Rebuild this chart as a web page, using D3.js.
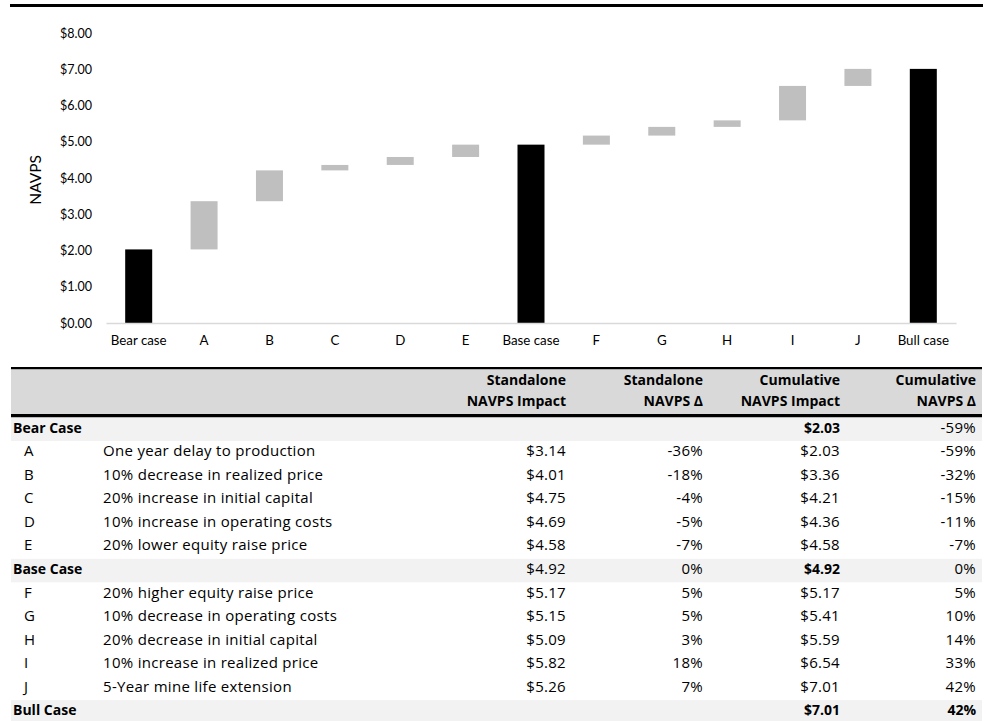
<!DOCTYPE html>
<html>
<head>
<meta charset="utf-8">
<script src="https://cdn.jsdelivr.net/npm/d3@7"></script>
<style>
  html, body { margin: 0; padding: 0; background: #fff; }
  svg { display: block; font-family: Lato, "Open Sans", sans-serif; }
  .tbl { font-family: "Open Sans", Lato, sans-serif; letter-spacing: 0.3px; }
  .tbl .b { font-weight: bold; font-size: 14px; letter-spacing: 0; }
</style>
</head>
<body>
<svg id="chart" width="989" height="721"></svg>
<script>
// ---- Waterfall chart data ----
const categories = ["Bear case", "A", "B", "C", "D", "E", "Base case", "F", "G", "H", "I", "J", "Bull case"];
const barLow  = [0,    2.03, 3.36, 4.21, 4.36, 4.58, 0,    4.92, 5.17, 5.41, 5.59, 6.54, 0];
const barHigh = [2.03, 3.36, 4.21, 4.36, 4.58, 4.92, 4.92, 5.17, 5.41, 5.59, 6.54, 7.01, 7.01];
const isTotal = [true, false, false, false, false, false, true, false, false, false, false, false, true];
const yTicks = [0, 1, 2, 3, 4, 5, 6, 7, 8];

// ---- Sensitivity table data ----
const rowKeys   = ["Bear Case", "A", "B", "C", "D", "E", "Base Case", "F", "G", "H", "I", "J", "Bull Case"];
const rowLabels = ["", "One year delay to production", "10% decrease in realized price",
  "20% increase in initial capital", "10% increase in operating costs", "20% lower equity raise price",
  "", "20% higher equity raise price", "10% decrease in operating costs",
  "20% decrease in initial capital", "10% increase in realized price", "5-Year mine life extension", ""];
const standaloneImpact = ["", "$3.14", "$4.01", "$4.75", "$4.69", "$4.58", "$4.92", "$5.17", "$5.15", "$5.09", "$5.82", "$5.26", ""];
const standaloneDelta  = ["", "-36%", "-18%", "-4%", "-5%", "-7%", "0%", "5%", "5%", "3%", "18%", "7%", ""];
const cumulativeImpact = ["$2.03", "$2.03", "$3.36", "$4.21", "$4.36", "$4.58", "$4.92", "$5.17", "$5.41", "$5.59", "$6.54", "$7.01", "$7.01"];
const cumulativeDelta  = ["-59%", "-59%", "-32%", "-15%", "-11%", "-7%", "0%", "5%", "10%", "14%", "33%", "42%", "42%"];
const caseRow = [true, false, false, false, false, false, true, false, false, false, false, false, true];
const headerTop    = ["Standalone", "Standalone", "Cumulative", "Cumulative"];
const headerBottom = ["NAVPS Impact", "NAVPS \u0394", "NAVPS Impact", "NAVPS \u0394"];

const svg = d3.select("#chart");

// Top rule
svg.append("rect").attr("x", 10).attr("y", 4).attr("width", 973).attr("height", 3).attr("fill", "#000");

// ---- Chart ----
const x = d3.scaleBand().domain(categories).range([106, 956]).padding(0);
const y = d3.scaleLinear().domain([0, 8]).range([323, 33]);
const barW = x.bandwidth() * 0.413;

const yAxis = d3.axisLeft(y).tickValues(yTicks).tickFormat(d3.format("$.2f")).tickSize(0).tickPadding(0);
const gy = svg.append("g").attr("transform", "translate(92,0)").call(yAxis)
  .attr("font-family", null).attr("font-size", null);
gy.select(".domain").remove();
gy.selectAll("text").attr("font-size", 12.5).attr("fill", "#000");

svg.append("text")
  .attr("transform", `translate(41,${(y(0) + y(8)) / 2 + 2}) rotate(-90)`)
  .attr("text-anchor", "middle")
  .attr("font-size", 15.5)
  .text("NAVPS");

svg.append("g").selectAll("rect")
  .data(categories)
  .join("rect")
  .attr("x", d => x(d) + (x.bandwidth() - barW) / 2)
  .attr("y", (d, i) => y(barHigh[i]))
  .attr("width", barW)
  .attr("height", (d, i) => y(barLow[i]) - y(barHigh[i]))
  .attr("fill", (d, i) => isTotal[i] ? "#000" : "#bfbfbf");

const xAxis = d3.axisBottom(x).tickSize(0).tickPadding(13);
const gx = svg.append("g").attr("transform", `translate(0,${y(0)})`).call(xAxis)
  .attr("font-family", null).attr("font-size", null);
gx.select(".domain").attr("stroke", "#d9d9d9").attr("stroke-width", 1.5);
gx.selectAll("text").attr("font-size", 13.3).attr("fill", "#000");

// ---- Table ----
const tableLeft = 11, tableRight = 982;
const numRight = [566, 703, 840, 976];
const tbl = svg.append("g").attr("class", "tbl").attr("font-size", 15);

tbl.append("rect").attr("x", tableLeft).attr("y", 367).attr("width", tableRight - tableLeft).attr("height", 2.5).attr("fill", "#000");
tbl.append("rect").attr("x", tableLeft).attr("y", 369.5).attr("width", tableRight - tableLeft).attr("height", 44.5).attr("fill", "#d9d9d9");
tbl.append("rect").attr("x", tableLeft).attr("y", 414).attr("width", tableRight - tableLeft).attr("height", 3.5).attr("fill", "#000");

const head = tbl.append("g").attr("text-anchor", "end");
numRight.forEach((xr, j) => {
  head.append("text").attr("class", "b").attr("x", xr).attr("y", 385).text(headerTop[j]);
  head.append("text").attr("class", "b").attr("x", xr).attr("y", 406).text(headerBottom[j]);
});

const rowTop = 417.5, rowH = 23.55, baseOff = 15.2;
const rows = tbl.append("g").selectAll("g")
  .data(rowKeys)
  .join("g")
  .attr("transform", (d, i) => `translate(0,${rowTop + i * rowH})`);

rows.filter((d, i) => caseRow[i]).append("rect")
  .attr("x", tableLeft).attr("y", 0).attr("width", tableRight - tableLeft).attr("height", rowH)
  .attr("fill", "#f2f2f2");

rows.append("text")
  .attr("x", (d, i) => caseRow[i] ? 13 : 24)
  .attr("y", baseOff)
  .attr("class", (d, i) => caseRow[i] ? "b" : null)
  .text(d => d);

rows.append("text")
  .attr("x", 103).attr("y", baseOff)
  .text((d, i) => rowLabels[i]);

const cols = [standaloneImpact, standaloneDelta, cumulativeImpact, cumulativeDelta];
cols.forEach((col, j) => {
  rows.append("text")
    .attr("x", numRight[j]).attr("y", baseOff)
    .attr("text-anchor", "end")
    .attr("class", (d, i) => {
      if (!caseRow[i]) return null;
      if (j === 2) return "b";
      if (j === 3 && i === rowKeys.length - 1) return "b";
      return null;
    })
    .text((d, i) => col[i]);
});
</script>
</body>
</html>
